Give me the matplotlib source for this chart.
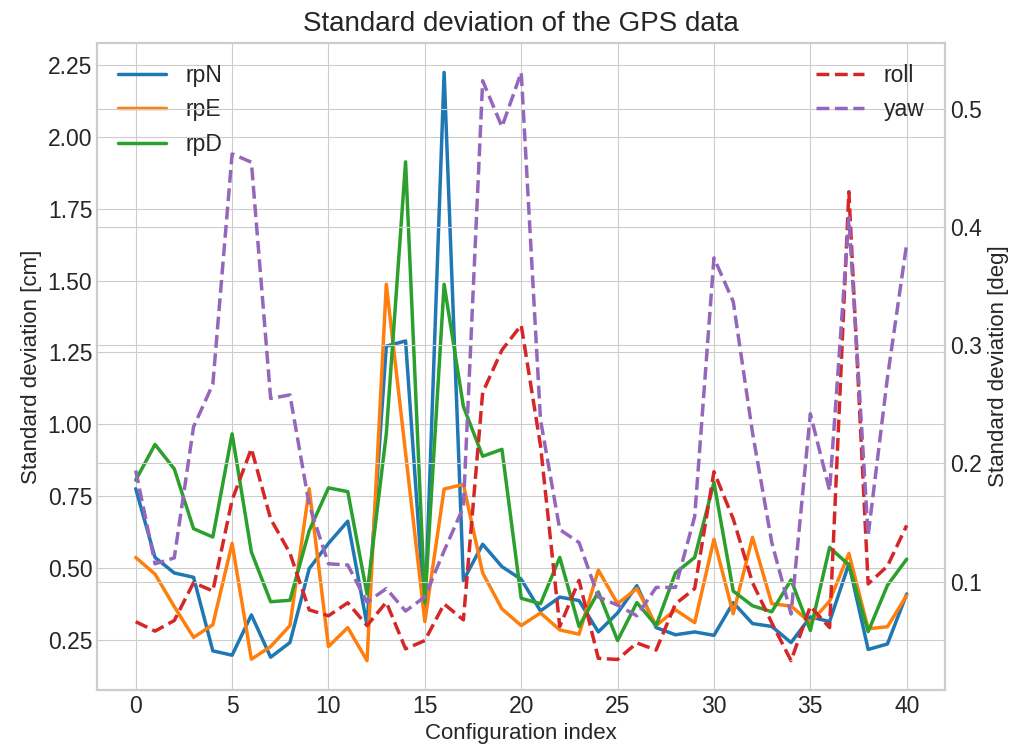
import numpy as np
import matplotlib
matplotlib.use('Agg')
import matplotlib.pyplot as plt
from matplotlib.ticker import MultipleLocator, FormatStrFormatter

############################## datos ##############################
idx = np.arange(41)

rpN = [0.776, 0.537, 0.483, 0.468, 0.212, 0.197, 0.337, 0.19, 0.241, 0.498,
       0.586, 0.663, 0.302, 1.272, 1.29, 0.33, 2.224, 0.457, 0.583, 0.505,
       0.461, 0.351, 0.399, 0.387, 0.278, 0.344, 0.439, 0.293, 0.268, 0.278,
       0.266, 0.38, 0.307, 0.297, 0.241, 0.33, 0.314, 0.515, 0.217, 0.236, 0.41]
rpE = [0.537, 0.479, 0.366, 0.259, 0.303, 0.586, 0.183, 0.227, 0.30, 0.776,
       0.227, 0.293, 0.178, 1.487, 0.9, 0.314, 0.775, 0.791, 0.483, 0.358,
       0.30, 0.344, 0.285, 0.27, 0.493, 0.376, 0.429, 0.30, 0.355, 0.31,
       0.60, 0.341, 0.607, 0.376, 0.368, 0.31, 0.385, 0.551, 0.289, 0.296, 0.405]
rpD = [0.806, 0.930, 0.845, 0.637, 0.608, 0.967, 0.556, 0.383, 0.388, 0.630,
       0.779, 0.766, 0.41, 0.967, 1.913, 0.38, 1.487, 1.062, 0.889, 0.913,
       0.395, 0.376, 0.537, 0.297, 0.417, 0.248, 0.38, 0.30, 0.483, 0.537,
       0.798, 0.42, 0.369, 0.348, 0.459, 0.283, 0.572, 0.511, 0.279, 0.44, 0.531]

# en grados (eje derecho)
roll = [0.066, 0.058, 0.067, 0.099, 0.092, 0.169, 0.2125, 0.153, 0.124, 0.076,
        0.071, 0.082, 0.0627, 0.0825, 0.043, 0.05, 0.081, 0.0675, 0.26, 0.296,
        0.317, 0.215, 0.062, 0.101, 0.035, 0.034, 0.048, 0.042, 0.081, 0.094,
        0.193, 0.153, 0.099, 0.065, 0.033, 0.079, 0.061, 0.43, 0.098, 0.113, 0.1475]
yaw = [0.194, 0.115, 0.12, 0.231, 0.267, 0.462, 0.455, 0.255, 0.258, 0.165,
       0.115, 0.114, 0.0825, 0.094, 0.075, 0.087, 0.126, 0.163, 0.524, 0.485,
       0.531, 0.237, 0.144, 0.133, 0.087, 0.080, 0.071, 0.095, 0.095, 0.155,
       0.374, 0.337, 0.226, 0.133, 0.0725, 0.242, 0.177, 0.408, 0.139, 0.2725, 0.386]

############################## grafica ##############################
plt.style.use('seaborn-v0_8-whitegrid')
plt.rcParams['font.family'] = ['Liberation Sans', 'DejaVu Sans']
plt.rcParams['axes.edgecolor'] = '#cccccc'
plt.rcParams['axes.linewidth'] = 1.5

fs = 16.5

fig, ax = plt.subplots(figsize=(10.23, 7.55), dpi=100)
fig.subplots_adjust(left=0.095, right=0.924, top=0.943, bottom=0.086)

ax.plot(idx, rpN, color='#1f77b4', lw=2.5, label='rpN')
ax.plot(idx, rpE, color='#ff7f0e', lw=2.5, label='rpE')
ax.plot(idx, rpD, color='#2ca02c', lw=2.5, label='rpD')
ax.set_xlabel('Configuration index', fontsize=16)
ax.set_ylabel('Standard deviation [cm]', fontsize=16)
ax.set_title('Standard deviation of the GPS data', fontsize=20, pad=9)
ax.tick_params(labelsize=fs)
ax.yaxis.set_major_locator(MultipleLocator(0.25))
ax.yaxis.set_major_formatter(FormatStrFormatter('%.2f'))
ax.legend(loc='upper left', fontsize=fs, handlelength=2.1, handletextpad=0.85)

ax2 = ax.twinx()
ax2.plot(idx, roll, '--', color='#d62728', lw=2.5, label='roll')
ax2.plot(idx, yaw, '--', color='#9467bd', lw=2.5, label='yaw')
ax2.set_ylabel('Standard deviation [deg]', fontsize=16)
ax2.tick_params(labelsize=fs)
ax2.legend(loc='upper right', fontsize=fs, handlelength=2.1, handletextpad=0.85)

ax.set_xticks(np.arange(0, 41, 5))

fig.savefig('out.png')
